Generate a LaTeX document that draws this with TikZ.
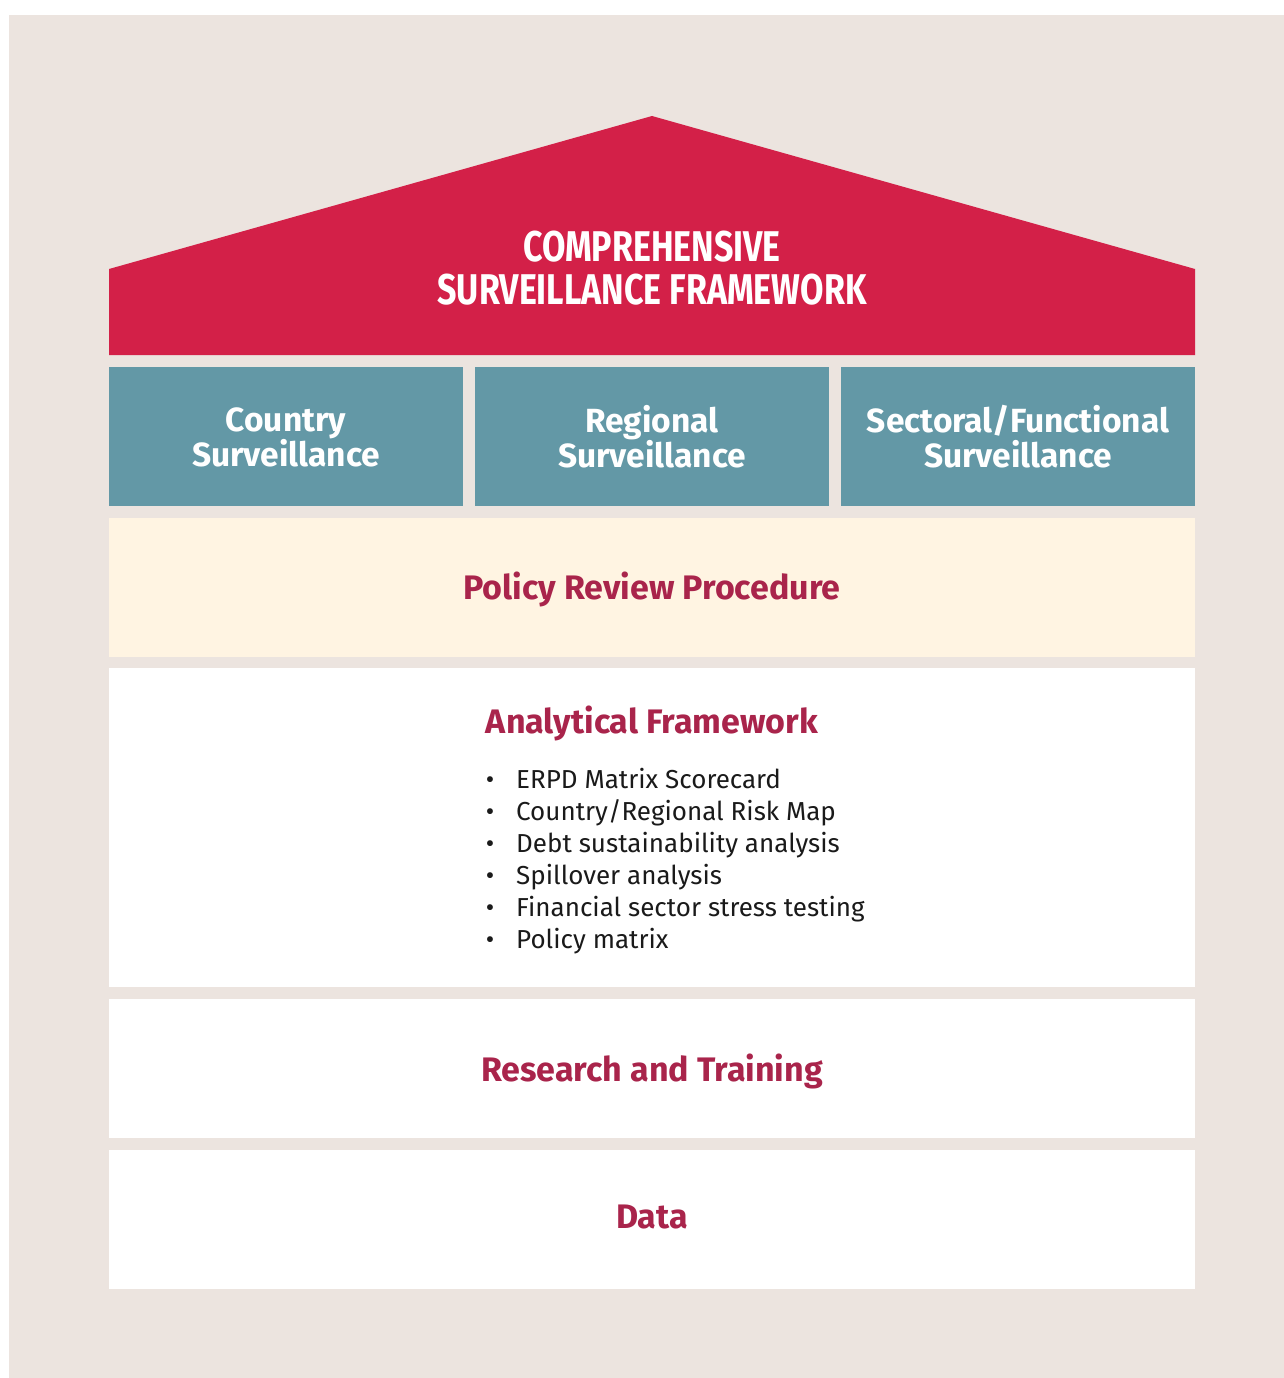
\documentclass[tikz,border=0pt]{standalone}
\usepackage{fontspec}
\usepackage{graphicx}
\setmainfont{Fira Sans}
\definecolor{pagebg}{HTML}{ECE4DF}
\definecolor{roofred}{HTML}{D32048}
\definecolor{pillar}{HTML}{6398A6}
\definecolor{cream}{HTML}{FFF4E2}
\definecolor{headred}{HTML}{A9244B}
\definecolor{bodytext}{HTML}{1A1A1A}
\tikzset{
  band/.style={fill=white, draw=none},
  pillarbox/.style={fill=pillar, draw=none},
  pillartext/.style={text=white, font=\fontsize{33.5}{35}\selectfont\bfseries, align=center},
  headtext/.style={text=headred, font=\fontsize{34}{36}\selectfont\bfseries},
  titletext/.style={text=white, font=\fontsize{43}{43}\selectfont\bfseries, inner sep=0pt, anchor=base},
  itemtext/.style={text=bodytext, font=\fontsize{26}{30}\selectfont, anchor=base west, inner sep=0pt},
  dot/.style={text=bodytext, font=\fontsize{26}{30}\selectfont, anchor=base, inner sep=0pt},
}
\begin{document}
\begin{tikzpicture}[x=1pt, y=-1pt]
\useasboundingbox (0,0) rectangle (1284,1378);
% page background
\fill[pagebg] (9,15) rectangle (1284,1378);

% roof
\fill[roofred] (109,355) -- (109,269) -- (652,116) -- (1195,269) -- (1195,355) -- cycle;
\node[titletext] (roof1) at (652,261) {\scalebox{0.79}[1]{COMPREHENSIVE}};
\node[titletext] (roof2) at (652,304) {\scalebox{0.79}[1]{SURVEILLANCE FRAMEWORK}};

% pillars
\fill[pillarbox] (109,367) rectangle (463,506);
\fill[pillarbox] (475,367) rectangle (829,506);
\fill[pillarbox] (841,367) rectangle (1195,506);
\node[pillartext] (country) at (286,437) {Country\\Surveillance};
\node[pillartext] (regional) at (652,437) {Regional\\Surveillance};
\node[pillartext] (sectoral) at (1018,437) {Sectoral/Functional\\Surveillance};

% foundation bands
\fill[cream] (109,518) rectangle (1195,657);
\node[headtext] (policy) at (652,589) {Policy Review Procedure};

\fill[band] (109,668) rectangle (1195,987);
\node[headtext] (analytical) at (652,723) {Analytical Framework};
\foreach \txt [count=\i] in {ERPD Matrix Scorecard, Country/Regional Risk Map,
    Debt sustainability analysis, Spillover analysis,
    Financial sector stress testing, Policy matrix} {
  \node[dot] (b\i) at (490,{779+32*(\i-1)+9}) {\textbullet};
  \node[itemtext] (item\i) at (516,{779+32*(\i-1)+9}) {\txt};
}

\fill[band] (109,999) rectangle (1195,1138);
\node[headtext] (research) at (652,1071) {Research and Training};

\fill[band] (109,1150) rectangle (1195,1289);
\node[headtext] (data) at (652,1217) {Data};
\end{tikzpicture}
\end{document}
